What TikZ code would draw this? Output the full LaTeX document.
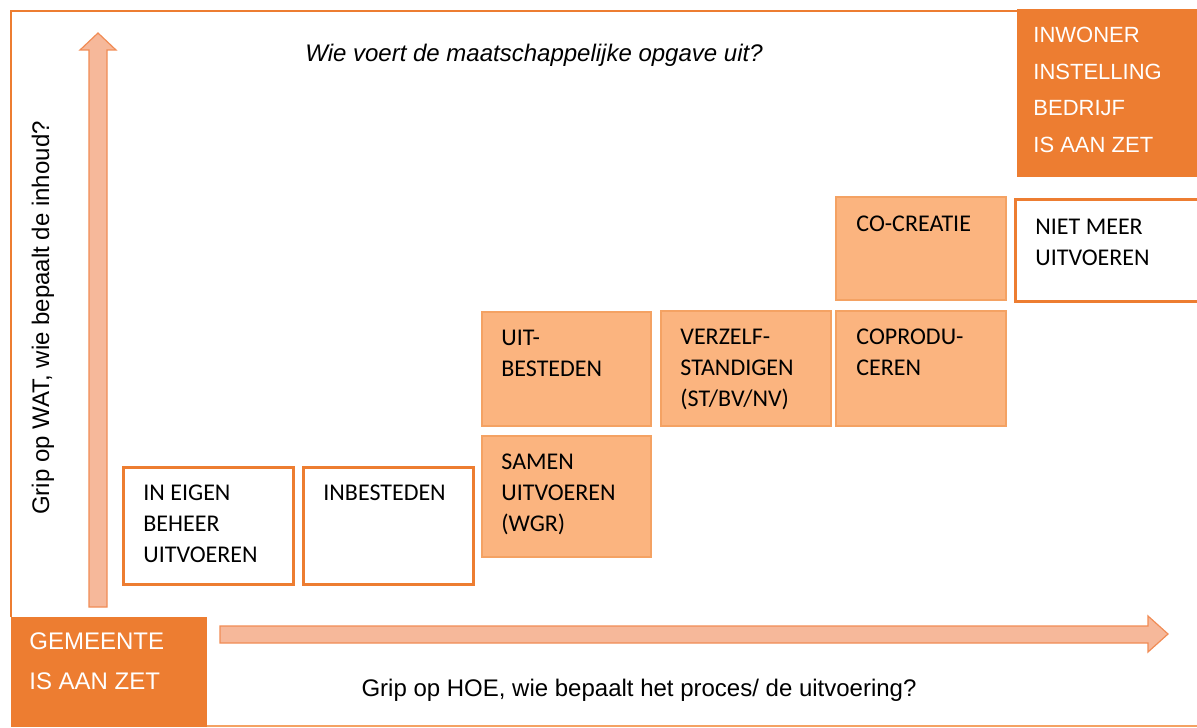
\documentclass[tikz,border=0pt]{standalone}
\usepackage{fontspec}
\setmainfont{Liberation Sans}
\newfontfamily\boxfont{Carlito}
\usetikzlibrary{positioning}
\definecolor{zetorange}{HTML}{ED7D31}
\definecolor{peach}{HTML}{FBB47F}
\definecolor{peachline}{HTML}{F4A263}
\definecolor{arrowpeach}{HTML}{F6B89A}
\definecolor{arrowline}{HTML}{F18C55}
\tikzset{
	whitebox/.style={draw=zetorange, line width=1.5pt, fill=white, anchor=north west, inner sep=0pt, outer sep=0pt},
	peachbox/.style={draw=peachline, line width=0.6pt, fill=peach, anchor=north west, inner sep=0pt, outer sep=0pt},
	boxtext/.style={anchor=north west, align=left, inner sep=0pt, font=\boxfont\fontsize{12}{15.5}\selectfont},
	zetbox/.style={fill=zetorange, anchor=north west, inner sep=0pt, outer sep=0pt},
	zettext/.style={anchor=north west, align=left, inner sep=0pt, text=white},
	axistext/.style={inner sep=0pt, font=\fontsize{12}{14}\selectfont},
	blockarrow/.style={fill=arrowpeach, draw=arrowline, line width=0.6pt}
}
\begin{document}
\begin{tikzpicture}[x=0.5pt,y=-0.5pt]
	\useasboundingbox (0,0) rectangle (1197,727);
	\draw[zetorange, line width=1.2pt](11,617)--(11,11)--(1197,11);
	\draw[peachline, line width=1pt](207,726)--(1197,726);
	% pijlen
	\draw[blockarrow](89,607)--(89,50)--(80,50)--(98,33)--(116,50)--(107,50)--(107,607)--cycle;
	\draw[blockarrow](220,626)--(1148,626)--(1148,616)--(1168,634)--(1148,652)--(1148,643)--(220,643)--cycle;
	% wie is aan zet
	\node[zetbox, minimum width=98pt, minimum height=55pt] (gemeente) at (11,617) {};
	\node[zettext, font=\fontsize{12}{20}\selectfont, below right=7.5pt and 9pt of gemeente.north west] (gemeentetxt) {GEMEENTE\\IS AAN ZET};
	\node[zetbox, minimum width=90pt, minimum height=84pt] (inwoner) at (1017,9) {};
	\node[zettext, font=\fontsize{11}{18.25}\selectfont, below right=9pt and 8pt of inwoner.north west] (inwonertxt) {INWONER\\INSTELLING\\BEDRIJF\\IS AAN ZET};
	% vormen van uitvoering
	\node[whitebox, minimum width=85pt, minimum height=58.5pt] (eigen) at (123,467) {};
	\node[boxtext, below right=9pt and 10pt of eigen.north west] (eigentxt) {IN EIGEN\\BEHEER\\UITVOEREN};
	\node[whitebox, minimum width=85pt, minimum height=58.5pt] (inbesteden) at (303,467) {};
	\node[boxtext, below right=9pt and 10pt of inbesteden.north west] (inbestedentxt) {INBESTEDEN};
	\node[peachbox, minimum width=84.5pt, minimum height=60.5pt] (samen) at (482,436) {};
	\node[boxtext, below right=9pt and 9.5pt of samen.north west] (samentxt) {SAMEN\\UITVOEREN\\(WGR)};
	\node[peachbox, minimum width=84.5pt, minimum height=57pt] (uitbesteden) at (482,312) {};
	\node[boxtext, below right=9pt and 9.5pt of uitbesteden.north west] (uitbestedentxt) {UIT-\\BESTEDEN};
	\node[peachbox, minimum width=85pt, minimum height=57.5pt] (verzelf) at (661,311) {};
	\node[boxtext, below right=9pt and 9.5pt of verzelf.north west] (verzelftxt) {VERZELF-\\STANDIGEN\\(ST/BV/NV)};
	\node[peachbox, minimum width=85pt, minimum height=57.5pt] (coprod) at (836,311) {};
	\node[boxtext, below right=9pt and 10pt of coprod.north west] (coprodtxt) {COPRODU-\\CEREN};
	\node[peachbox, minimum width=85pt, minimum height=51.5pt] (cocreatie) at (836,197) {};
	\node[boxtext, below right=9.5pt and 10pt of cocreatie.north west] (cocreatietxt) {CO-CREATIE};
	\node[whitebox, minimum width=93pt, minimum height=50.5pt] (nietmeer) at (1015,200) {};
	\node[boxtext, below right=9.5pt and 10pt of nietmeer.north west] (nietmeertxt) {NIET MEER\\UITVOEREN};
	% assen
	\node[axistext, font=\itshape\fontsize{12}{14}\selectfont] (vraag) at (534,55) {Wie voert de maatschappelijke opgave uit?};
	\node[axistext] (hoe) at (639,690) {Grip op HOE, wie bepaalt het proces/ de uitvoering?};
	\node[axistext, rotate=90] (wat) at (43,318) {Grip op WAT, wie bepaalt de inhoud?};
\end{tikzpicture}
\end{document}
